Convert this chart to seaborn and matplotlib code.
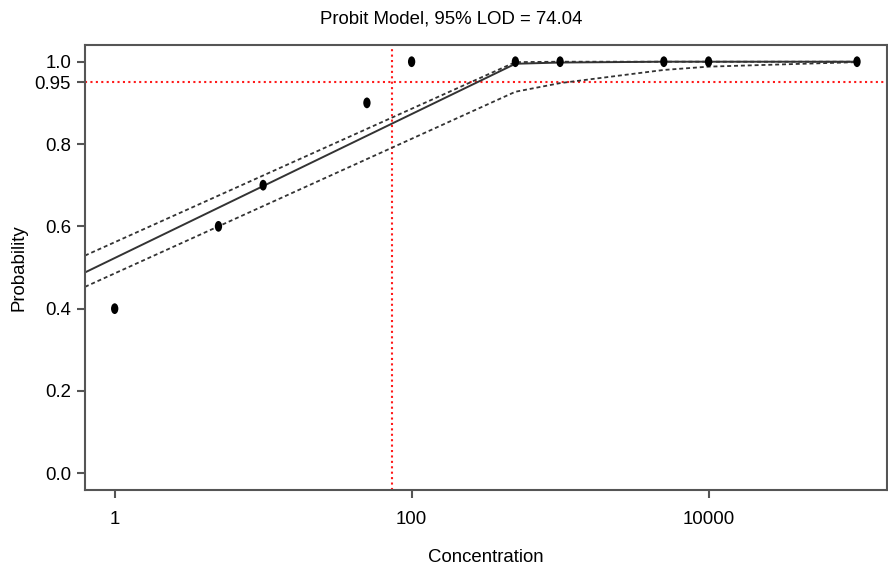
import numpy as np
import pandas as pd
import matplotlib
matplotlib.use("Agg")
import matplotlib.pyplot as plt
from matplotlib.path import Path
from matplotlib.transforms import Affine2D
import seaborn as sns

# observed hit rates
conc = [1, 5, 10, 50, 100, 500, 1000, 5000, 10000, 100000]
prob = [0.4, 0.6, 0.7, 0.9, 1.0, 1.0, 1.0, 1.0, 1.0, 1.0]

# fitted probit curve and confidence band (vertices)
fit_x = [0.631, 500, 1000, 5000, 10000, 100000]
fit_mid = [0.488, 0.995, 0.998, 1.0, 1.0, 1.0]
fit_upper = [0.529, 0.999, 1.0, 1.0, 1.0, 1.0]
fit_lower = [0.453, 0.927, 0.948, 0.980, 0.988, 0.999]

lod = 74.04
lod_level = 0.95

yticks = [0.0, 0.2, 0.4, 0.6, 0.8, 0.95, 1.0]
ytick_labels = ["0.0", "0.2", "0.4", "0.6", "0.8", "0.95", "1.0"]
xticks = [1, 100, 10000]
xtick_labels = ["1", "100", "10000"]

sns.set_style("white")
plt.rcParams["font.family"] = ["Liberation Sans", "DejaVu Sans"]

fig = plt.figure(figsize=(8.88, 5.66), dpi=100)
ax = fig.add_axes([85 / 888, 1 - 490 / 566, (886.7 - 85) / 888, (490 - 45) / 566])

pts = pd.DataFrame({"Concentration": conc, "Probability": prob})
fit = pd.DataFrame({"x": fit_x, "mid": fit_mid, "upper": fit_upper, "lower": fit_lower})

dash_col = "#333333"
sns.lineplot(data=fit, x="x", y="upper", ax=ax, color=dash_col, lw=1.3,
             linestyle=(0, (2.2, 1.6)), estimator=None, sort=False)
sns.lineplot(data=fit, x="x", y="lower", ax=ax, color=dash_col, lw=1.3,
             linestyle=(0, (2.2, 1.6)), estimator=None, sort=False)
sns.lineplot(data=fit, x="x", y="mid", ax=ax, color="#333333", lw=1.4,
             estimator=None, sort=False)

ellipse = Path.unit_circle().transformed(Affine2D().scale(0.68, 1.0))
sns.scatterplot(data=pts, x="Concentration", y="Probability", ax=ax,
                marker=ellipse, s=60, color="black", edgecolor="none", zorder=5)

ax.axvline(lod, color="#ff1a1a", lw=1.5, linestyle=(0, (1, 1.6)), zorder=1)
ax.axhline(lod_level, color="#ff1a1a", lw=1.5, linestyle=(0, (1, 1.6)), zorder=1)

ax.set_xscale("log")
ax.set_xlim(10 ** -0.2, 10 ** 5.2)
ax.set_ylim(-0.0406, 1.0406)
ax.set_xticks(xticks)
ax.set_xticklabels(xtick_labels)
ax.minorticks_off()
ax.set_yticks(yticks)
ax.set_yticklabels(ytick_labels)

for s in ax.spines.values():
    s.set_color("#555555")
    s.set_linewidth(1.5)
ax.tick_params(axis="both", direction="out", length=6, width=1.5, color="#555555",
               labelsize=13.4, labelcolor="black", pad=4, bottom=True, left=True)
ax.tick_params(axis="x", pad=9)

ax.set_xlabel("Concentration", fontsize=13.4, labelpad=15.5, color="black")
ax.set_ylabel("Probability", fontsize=13.4, labelpad=5, color="black")
fig.text(451 / 888, 1 - 19 / 566, "Probit Model, 95% LOD = 74.04", fontsize=13.4,
         color="black", ha="center", va="center")
ax.grid(False)

fig.savefig("out.png", dpi=100)
